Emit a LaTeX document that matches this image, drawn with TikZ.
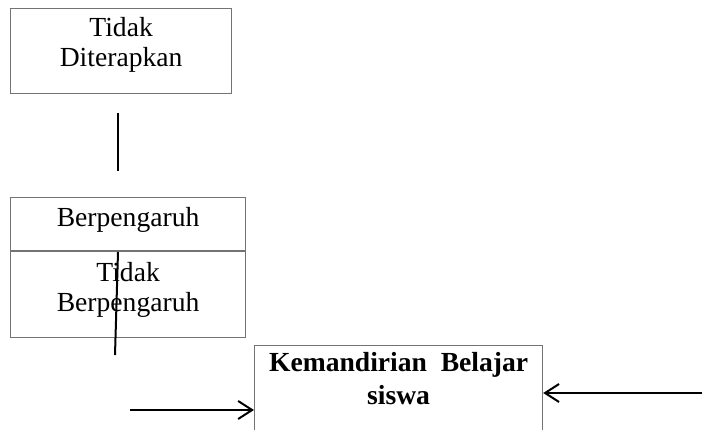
\documentclass[tikz,border=0pt]{standalone}
\usepackage{fontspec}
\setmainfont{Liberation Serif}
\usetikzlibrary{positioning, arrows.meta}
\tikzset{
box/.style={
  rectangle,
  draw=black!55,
  line width=0.6pt,
  inner sep=0pt,
 },
txt/.style={align=center, inner sep=0pt, font=\fontsize{13.8}{15}\selectfont},
line/.style={draw, line width=1pt},
arrow/.style={draw, line width=1pt, -{Straight Barb[length=7pt,width=9pt]}}
}

\begin{document}
\begin{tikzpicture}[x=0.5pt,y=-0.5pt]
 \clip (0,0) rectangle (706,429);
 % boxes
 \node[box,anchor=north west,minimum width=110.5pt,minimum height=42.5pt] (diterapkan) at (10,8) {};
 \node[box,anchor=north west,minimum width=117.5pt,minimum height=70pt] (pengaruh) at (10,197) {};
 \node[box,anchor=north west,minimum width=144pt,minimum height=60pt] (mandiri) at (254,345) {};
 \draw[box] ([yshift=-27pt]pengaruh.north west) -- ([yshift=-27pt]pengaruh.north east);

 % texts
 \node[txt,anchor=north] (tDiterapkan) at ([yshift=-4.6pt]diterapkan.north) {Tidak\\Diterapkan};
 \node[txt,anchor=north] (tBerpengaruh) at ([yshift=-4.8pt]pengaruh.north) {Berpengaruh};
 \node[txt,anchor=north] (tTidakBerpengaruh) at ([yshift=-32.5pt]pengaruh.north) {Tidak\\Berpengaruh};
 \node[txt,anchor=north,font=\fontsize{13.8}{16.5}\selectfont\bfseries] (tMandiri) at ([yshift=-3.6pt]mandiri.north) {Kemandirian~ Belajar\\siswa};

 % lines
 \coordinate (v1) at (118,113);
 \coordinate (v2) at (118,171);
 \draw[line] (v1) -- (v2);
 \coordinate (s1) at (118,252);
 \coordinate (s2) at (115,355);
 \draw[line] (s1) -- (s2);

 % arrows
 \coordinate (in1) at (130,410);
 \coordinate (in2) at (702,393);
 \draw[arrow] (in1) -- (mandiri.west |- in1);
 \draw[arrow] (in2) -- (mandiri.east |- in2);
\end{tikzpicture}
\end{document}
